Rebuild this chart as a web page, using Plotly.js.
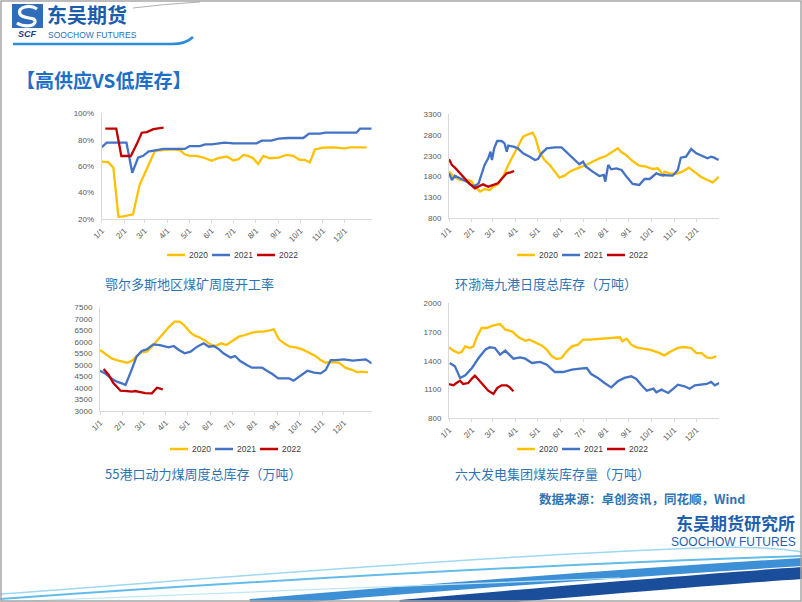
<!DOCTYPE html>
<html><head><meta charset="utf-8">
<script src="https://cdn.plot.ly/plotly-3.0.1.min.js"></script>
<style>html,body{margin:0;padding:0;background:#fff}#chart{width:802px;height:602px}</style>
</head><body><div id="chart"></div>
<script>
// ---------- data ----------
const monthTicks = ['1/1','2/1','3/1','4/1','5/1','6/1','7/1','8/1','9/1','10/1','11/1','12/1'];
const monthDays = [0,31,59,90,120,151,181,212,243,273,304,334];
const seriesNames = ['2020','2021','2022'];
const seriesColors = ['#FFC000','#4472C4','#C00000'];

// 鄂尔多斯地区煤矿周度开工率 (%)
const c1_2020_day = [0,9,16,23,30,37,43,52,59,66,73,80,87,94,101,108,114,121,130,140,151,160,172,181,188,195,201,208,215,222,231,243,254,263,272,279,286,293,304,318,334,341,364];
const c1_2020_val = [63.5,63,58.8,21.7,22,23,23.5,45.7,54.6,63.3,71.5,72,72.5,72.5,72.5,72,69,67.8,67.8,66.5,64,66,67.3,64.3,65.3,68.5,67.8,66,61.6,67.8,66,66.5,68.5,67.8,64.8,64.8,62.8,72.7,74,74.2,73.5,74.2,74.2];
const c1_2021_day = [0,7,34,42,50,57,64,75,85,114,121,135,142,151,169,181,213,220,233,243,256,277,285,300,307,350,355,371];
const c1_2021_val = [74.3,77.8,77.8,55,66.4,67.8,71,71.8,73,73,75.2,75.2,76.5,76.5,77.8,77.3,77.3,79.3,79.3,80.8,81.3,81.3,84.6,84.6,85.3,85.3,88.4,88.4];
const c1_2022_day = [5,20,27,40,48,55,62,71,85];
const c1_2022_val = [88.4,88.4,67.7,67.7,76.5,85.3,85.8,88,89.1];

// 环渤海九港日度总库存（万吨）
const c2_2020_day = [0,6,15,24,30,35,42,48,55,60,66,73,80,87,93,100,107,113,117,122,129,136,143,149,156,163,170,176,185,194,203,212,221,228,232,239,248,257,266,275,282,286,289,291,298,306,315,324,331,340,349,356,360,364];
const c2_2020_val = [1930,1798,1718,1718,1694,1558,1438,1502,1478,1558,1614,1798,2078,2317,2557,2757,2813,2853,2717,2397,2197,2078,1918,1774,1822,1918,1974,2014,2078,2157,2237,2293,2397,2477,2397,2317,2173,2061,2038,1982,1998,1918,1798,1918,1878,1862,1918,2014,1918,1798,1718,1662,1718,1798];
const c2_2021_day = [0,4,8,15,24,30,35,40,44,48,53,56,58,61,65,71,75,78,80,87,93,100,109,116,120,125,132,143,152,158,167,176,181,185,194,203,209,211,215,219,226,233,239,248,257,264,271,280,286,293,302,309,313,320,327,334,343,349,354,358,364];
const c2_2021_val = [1878,1718,1822,1758,1678,1598,1574,1638,1838,2078,2237,2397,2197,2477,2653,2653,2597,2397,2541,2517,2477,2357,2277,2197,2221,2357,2477,2501,2501,2397,2237,2094,2157,2038,1918,1814,1838,1678,2078,1974,1998,1958,1814,1622,1598,1742,1742,1878,1838,1838,1822,1958,2253,2277,2461,2357,2277,2237,2277,2253,2197];
const c2_2022_day = [0,4,8,15,22,28,35,40,46,53,60,66,71,78,83,88];
const c2_2022_val = [2213,2078,2014,1878,1742,1622,1518,1558,1614,1558,1598,1638,1742,1878,1902,1934];

// 55港口动力煤周度总库存（万吨）
const c3_2020_day = [0,9,16,25,37,44,50,57,64,71,78,85,94,102,109,115,124,130,137,144,151,158,166,173,181,190,199,208,217,224,231,238,245,252,260,268,277,286,295,302,309,316,327,336,346,352,359,367];
const c3_2020_val = [5646,5429,5284,5183,5096,5183,5386,5545,5574,5791,6051,6269,6630,6876,6876,6732,6399,6269,6182,6051,5892,5820,5936,5863,6051,6225,6298,6399,6442,6442,6486,6543,6109,5936,5791,5762,5675,5531,5386,5212,5096,5125,5096,4879,4778,4677,4706,4677];
const c3_2021_day = [0,7,15,23,30,35,44,50,57,64,73,82,94,101,108,116,124,133,142,149,156,163,169,179,185,192,201,208,215,222,229,236,244,249,259,265,275,284,293,302,309,316,323,334,346,357,364,372];
const c3_2021_val = [4749,4633,4416,4272,4199,4127,4850,5357,5603,5675,5892,5863,5762,5820,5646,5502,5574,5791,5936,5791,5820,5675,5502,5314,5386,5169,4995,4879,4879,4879,4735,4604,4416,4416,4416,4315,4561,4749,4662,4633,4778,5212,5212,5241,5183,5212,5241,5067];
const c3_2022_day = [5,12,18,28,37,44,48,55,62,71,78,86];
const c3_2022_val = [4822,4561,4228,3881,3866,3838,3866,3809,3780,3765,4011,3939];

// 六大发电集团煤炭库存量（万吨）
const c4_2020_day = [0,6,13,17,22,28,33,37,44,51,60,69,76,85,94,103,109,118,125,132,139,145,152,159,166,174,181,190,204,217,231,234,240,246,253,262,271,282,291,300,309,318,327,334,341,348,354,361];
const c4_2020_val = [1541,1506,1481,1492,1551,1534,1551,1638,1742,1742,1770,1784,1725,1708,1645,1610,1621,1586,1561,1516,1447,1419,1429,1499,1551,1568,1621,1621,1627,1634,1645,1603,1631,1568,1541,1527,1516,1488,1457,1499,1534,1544,1534,1481,1481,1436,1429,1447];
const c4_2021_day = [1,8,15,22,31,40,49,55,62,69,76,87,96,103,112,123,132,143,154,166,177,186,192,201,210,219,228,237,246,253,260,267,276,280,287,296,303,309,318,325,332,341,348,354,359,365];
const c4_2021_val = [1377,1342,1221,1248,1325,1429,1516,1541,1534,1464,1506,1422,1436,1422,1377,1388,1360,1283,1283,1308,1318,1325,1262,1221,1168,1123,1186,1221,1238,1210,1144,1088,1109,1071,1099,1064,1109,1151,1134,1109,1144,1151,1158,1179,1144,1168];
const c4_2022_day = [0,6,10,15,19,26,31,35,40,46,53,60,65,71,78,82,87];
const c4_2022_val = [1158,1144,1168,1193,1158,1168,1214,1245,1203,1151,1088,1054,1116,1144,1144,1123,1082];

const chartCaptions = ['鄂尔多斯地区煤矿周度开工率','环渤海九港日度总库存（万吨）','55港口动力煤周度总库存（万吨）','六大发电集团煤炭库存量（万吨）'];
const pageTitle = '【高供应VS低库存】';
const sourceNote = '数据来源：卓创资讯，同花顺，Wind';

// ---------- layout helpers ----------
const W = 802, H = 602;
const px = x => x / W;
const py = y => 1 - y / H;
const pp = s => s.replace(/(-?\d+\.?\d*),(-?\d+\.?\d*)/g, (m,a,b) => px(+a).toFixed(5) + ',' + py(+b).toFixed(5));

const FONT = 'Liberation Sans, Arial, sans-serif';
const CJK = 'Noto Sans CJK SC, sans-serif';

const charts = [
  {days:[c1_2020_day,c1_2021_day,c1_2022_day], vals:[c1_2020_val,c1_2021_val,c1_2022_val],
   xd:[101.7,371.7], yd:[113.3,219], xr:[0,371], yr:[20,100], dtick:20, suffix:'%', legX:167, legY:255, capX:103, capY:283},
  {days:[c2_2020_day,c2_2021_day,c2_2022_day], vals:[c2_2020_val,c2_2021_val,c2_2022_val],
   xd:[449,719.3], yd:[114,218.3], xr:[0,365], yr:[800,3300], dtick:500, suffix:'', legX:517, legY:255, capX:453, capY:283},
  {days:[c3_2020_day,c3_2021_day,c3_2022_day], vals:[c3_2020_val,c3_2021_val,c3_2022_val],
   xd:[100,371.7], yd:[307.3,411], xr:[0,372], yr:[3000,7500], dtick:500, suffix:'', legX:170, legY:449, capX:103, capY:473},
  {days:[c4_2020_day,c4_2021_day,c4_2022_day], vals:[c4_2020_val,c4_2021_val,c4_2022_val],
   xd:[449,719.3], yd:[303.3,418.3], xr:[0,365], yr:[800,2000], dtick:300, suffix:'', legX:517, legY:449, capX:453, capY:473}
];

const traces = [];
const layout = {
  width: W, height: H, margin:{l:0,r:0,t:0,b:0}, paper_bgcolor:'#fff', plot_bgcolor:'rgba(0,0,0,0)',
  showlegend:false, font:{family:FONT, color:'#595959', size:8}, shapes:[], annotations:[]
};

charts.forEach((c, k) => {
  const n = k === 0 ? '' : String(k + 1);
  c.days.forEach((d, i) => {
    traces.push({type:'scatter', mode:'lines', x:d, y:c.vals[i], name:seriesNames[i],
      xaxis:'x'+n, yaxis:'y'+n, line:{color:seriesColors[i], width:2.3}, hoverinfo:'skip'});
  });
  layout['xaxis'+n] = {domain:[px(c.xd[0]), px(c.xd[1])], range:c.xr, anchor:'y'+n,
    tickmode:'array', tickvals:monthDays, ticktext:monthTicks, tickangle:-45,
    tickfont:{size:8, color:'#595959', family:FONT}, showline:true, linecolor:'#D9D9D9', linewidth:1,
    ticks:'outside', ticklen:3, tickcolor:'#D9D9D9', showgrid:false, zeroline:false, fixedrange:true};
  layout['yaxis'+n] = {domain:[py(c.yd[1]), py(c.yd[0])], range:c.yr, anchor:'x'+n,
    dtick:c.dtick, tick0:c.yr[0], ticksuffix:c.suffix, tickfont:{size:8, color:'#595959', family:FONT},
    showline:true, linecolor:'#D9D9D9', linewidth:1, ticks:'', ticklabelstandoff:5,
    showgrid:false, zeroline:false, fixedrange:true};
  // legend (compact, like the reference)
  seriesNames.forEach((nm, i) => {
    const x0 = c.legX + 45 * i;
    layout.shapes.push({type:'line', xref:'paper', yref:'paper', x0:px(x0), x1:px(x0+18), y0:py(c.legY), y1:py(c.legY),
      line:{color:seriesColors[i], width:2.5}});
    layout.annotations.push({xref:'paper', yref:'paper', x:px(x0+20), y:py(c.legY), xanchor:'left', yanchor:'middle',
      text:nm, showarrow:false, font:{size:8.5, color:'#404040', family:FONT}});
  });
  layout.annotations.push({xref:'paper', yref:'paper', x:px(c.capX), y:py(c.capY), xanchor:'left', yanchor:'middle',
    text:chartCaptions[k], showarrow:false, font:{size:13, color:'#2E74B5', family:CJK}});
});

// title & source
layout.annotations.push({xref:'paper', yref:'paper', x:px(14), y:py(80), xanchor:'left', yanchor:'middle',
  text:'<b>'+pageTitle+'</b>', showarrow:false, font:{size:19, color:'#1F6FC5', family:CJK}});
layout.annotations.push({xref:'paper', yref:'paper', x:px(537), y:py(498), xanchor:'left', yanchor:'middle',
  text:'<b>'+sourceNote+'</b>', showarrow:false, font:{size:12.5, color:'#2E74B5', family:CJK}});

// header logo
layout.shapes.push({type:'rect', xref:'paper', yref:'paper', x0:px(12), x1:px(43), y0:py(28), y1:py(4),
  fillcolor:'#2F6DB8', line:{width:0}});
layout.shapes.push({type:'path', xref:'paper', yref:'paper', path:pp('M37,9 C30,4 17,7 20,14 C23,20 36,16 35,22 C34,27 23,27 17,23'),
  line:{color:'#ffffff', width:3.2}});
layout.annotations.push({xref:'paper', yref:'paper', x:px(27.5), y:py(34), xanchor:'center', yanchor:'middle',
  text:'<b><i>SCF</i></b>', showarrow:false, borderpad:0, font:{size:9, color:'#1B3F8B', family:FONT}});
layout.annotations.push({xref:'paper', yref:'paper', x:px(46), y:py(15), xanchor:'left', yanchor:'middle',
  text:'<b>东吴期货</b>', showarrow:false, borderpad:0, font:{size:20, color:'#1A5DAD', family:CJK}});
layout.annotations.push({xref:'paper', yref:'paper', x:px(47), y:py(35), xanchor:'left', yanchor:'middle',
  text:'SOOCHOW FUTURES', showarrow:false, borderpad:0, font:{size:8.5, color:'#2A6FBF', family:FONT}});
layout.shapes.push({type:'path', xref:'paper', yref:'paper', path:pp('M13,44 L172,44 Q186,44 193,37'),
  line:{color:'#2E8BD8', width:2.5}});
layout.shapes.push({type:'path', xref:'paper', yref:'paper', path:pp('M133,8 Q165,4 200,2'),
  line:{color:'#B0B0B0', width:1}});

// footer logo
layout.annotations.push({xref:'paper', yref:'paper', x:px(796), y:py(522), xanchor:'right', yanchor:'middle',
  text:'<b>东吴期货研究所</b>', showarrow:false, borderpad:0, font:{size:17, color:'#1F5FAF', family:CJK}});
layout.annotations.push({xref:'paper', yref:'paper', x:px(797), y:py(542), xanchor:'right', yanchor:'middle',
  text:'SOOCHOW FUTURES', showarrow:false, borderpad:0, font:{size:12, color:'#1F5FAF', family:FONT}});

// footer waves
[
  ['M0,594 C220,578 480,556 700,548 C740,546 780,548 802,552', '#9ED8F2', 1.5],
  ['M0,599 C240,582 500,566 802,556', '#62BCE9', 2],
  ['M250,603 C450,586 640,572 802,562', '#3D8FD6', 8],
  ['M400,606 C560,592 700,580 802,573', '#1A4E9A', 12],
  ['M0,602 C200,594 420,585 620,578', '#BFE6F7', 1.2]
].forEach(w => layout.shapes.push({type:'path', xref:'paper', yref:'paper', path:pp(w[0]), line:{color:w[1], width:w[2]}, layer:'below'}));

// slide frame
layout.shapes.push({type:'rect', xref:'paper', yref:'paper', x0:px(1), x1:px(801), y0:py(601), y1:py(1),
  line:{color:'#A6A6A6', width:1.5}});

Plotly.newPlot('chart', traces, layout, {displayModeBar:false, staticPlot:true});
</script></body></html>
